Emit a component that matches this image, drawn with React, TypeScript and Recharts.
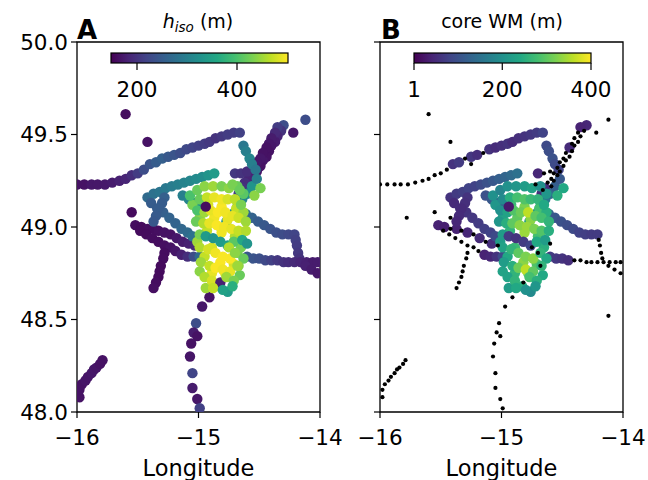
import { ScatterChart, Scatter, XAxis, YAxis, ReferenceArea } from 'recharts';

// [lon, lat, h_iso (m), core WM (m)] – null where the value is missing
type Row = [number, number, number | null, number | null];

const northLeg: Row[] = [
  [-16.0, 49.23, 165, null], [-15.94, 49.23, 165, null], [-15.88, 49.23, 170, null],
  [-15.83, 49.23, 170, null], [-15.77, 49.23, 172, null], [-15.71, 49.24, 175, null],
  [-15.65, 49.25, 180, null], [-15.6, 49.26, 185, null], [-15.55, 49.28, 195, null],
  [-15.5, 49.29, 210, null], [-15.45, 49.31, 230, null], [-15.4, 49.34, 240, 60],
  [-15.35, 49.35, 250, 70], [-15.3, 49.37, 255, null], [-15.25, 49.38, 245, 65],
  [-15.2, 49.39, 240, 55], [-15.15, 49.4, 230, null], [-15.1, 49.42, 225, 60],
  [-15.05, 49.43, 220, 50], [-15.0, 49.44, 215, 55], [-14.95, 49.45, 210, 60],
  [-14.91, 49.46, 205, 50], [-14.86, 49.48, 200, 55], [-14.81, 49.49, 205, 60],
  [-14.76, 49.5, 210, 65], [-14.71, 49.51, 210, 70], [-14.66, 49.51, 215, 80],
];

const neLegA: Row[] = [
  [-14.3, 49.55, 230, 45], [-14.32, 49.52, 200, null], [-14.35, 49.49, 185, null],
  [-14.37, 49.46, 175, null], [-14.4, 49.44, 170, null], [-14.42, 49.41, 165, null],
  [-14.44, 49.38, 165, null], [-14.47, 49.36, 170, null], [-14.49, 49.33, 165, null],
  [-14.52, 49.3, 170, null], [-14.54, 49.28, 175, null], [-14.57, 49.25, 180, null],
  [-14.59, 49.22, 190, null],
];

const neLegB: Row[] = [
  [-14.35, 49.54, 210, 40], [-14.37, 49.51, 190, null], [-14.4, 49.48, 175, null],
  [-14.42, 49.45, 170, null], [-14.44, 49.43, 165, 50], [-14.47, 49.4, 165, null],
  [-14.49, 49.37, 170, null], [-14.52, 49.35, 170, null], [-14.54, 49.32, 175, null],
  [-14.57, 49.29, 180, null], [-14.59, 49.26, 185, null], [-14.62, 49.24, 195, null],
  [-14.64, 49.21, 200, 50], [-14.67, 49.18, 210, 55],
];

const shortLeg: Row[] = [
  [-14.7, 49.29, 205, 45], [-14.65, 49.29, 200, null], [-14.6, 49.3, 195, null],
];

const seUpper: Row[] = [
  [-14.66, 49.09, 300, 150], [-14.61, 49.07, 280, 130], [-14.56, 49.05, 260, 110],
  [-14.51, 49.03, 250, 100], [-14.46, 49.01, 245, 95], [-14.41, 48.99, 240, 90],
  [-14.36, 48.97, 235, 80], [-14.31, 48.96, 230, 75], [-14.26, 48.96, 225, 70],
  [-14.21, 48.96, 220, 70], [-14.2, 48.93, 215, null], [-14.19, 48.9, 210, null],
  [-14.18, 48.86, 205, null], [-14.17, 48.83, 200, null],
];

const seLower: Row[] = [
  [-14.6, 48.84, 245, 70], [-14.55, 48.83, 240, 65], [-14.5, 48.83, 235, 60],
  [-14.45, 48.82, 225, 55], [-14.4, 48.82, 215, null], [-14.35, 48.82, 205, null],
  [-14.3, 48.81, 200, null], [-14.26, 48.81, 195, null], [-14.21, 48.81, 190, null],
  [-14.16, 48.81, 185, null], [-14.11, 48.81, 180, null], [-14.06, 48.81, 175, null],
  [-14.02, 48.81, 175, null], [-14.12, 48.79, 180, null], [-14.07, 48.77, 175, null],
  [-14.02, 48.75, 170, null],
];

const vUpper: Row[] = [
  [-15.52, 49.01, 160, 40], [-15.47, 49.0, 158, 35], [-15.42, 48.99, 160, null],
  [-15.37, 48.99, 160, 40], [-15.33, 48.98, 162, null], [-15.28, 48.97, 165, 45],
  [-15.23, 48.96, 165, null], [-15.18, 48.94, 170, 50], [-15.13, 48.92, 175, null],
  [-15.08, 48.91, 180, 55], [-15.03, 48.9, 190, null],
];

const vLower: Row[] = [
  [-15.48, 48.98, 158, null], [-15.43, 48.96, 158, null], [-15.38, 48.94, 160, null],
  [-15.33, 48.92, 160, null], [-15.28, 48.9, 162, null], [-15.23, 48.89, 165, null],
  [-15.19, 48.87, 170, null], [-15.14, 48.85, 180, 40], [-15.09, 48.84, 195, 45],
  [-15.04, 48.84, 230, 60], [-14.99, 48.84, 270, 90],
];

const vDown: Row[] = [
  [-15.28, 48.86, 160, null], [-15.29, 48.83, 160, null], [-15.31, 48.79, 158, null],
  [-15.32, 48.76, 158, null], [-15.33, 48.73, 158, null], [-15.35, 48.7, 160, null],
  [-15.37, 48.67, 162, null],
];

const southLeg: Row[] = [
  [-14.91, 48.62, 165, null], [-14.97, 48.57, 170, null], [-15.02, 48.48, 230, null],
  [-15.04, 48.43, 175, null], [-15.01, 48.41, 165, null], [-15.06, 48.37, 165, null],
  [-15.07, 48.3, 168, null], [-15.05, 48.21, 220, null], [-15.05, 48.13, 175, null],
  [-15.01, 48.07, 170, null], [-14.99, 48.02, 215, null],
];

const swLeg: Row[] = [
  [-15.98, 48.08, 165, null], [-15.98, 48.12, 165, null], [-15.96, 48.15, 165, null],
  [-15.93, 48.17, 168, null], [-15.91, 48.19, 168, null], [-15.88, 48.21, 170, null],
  [-15.86, 48.23, 170, null], [-15.84, 48.24, 168, null], [-15.81, 48.26, 165, null],
  [-15.79, 48.28, 165, null],
];

const nwLoops: Row[] = [
  [-15.42, 49.16, 270, 60], [-15.37, 49.18, 280, 70], [-15.32, 49.19, 285, 75],
  [-15.27, 49.21, 290, 80], [-15.22, 49.22, 295, 80], [-15.17, 49.23, 300, 90],
  [-15.12, 49.24, 305, 100], [-15.07, 49.25, 310, 110], [-15.02, 49.26, 315, 120],
  [-14.97, 49.27, 320, 130], [-14.92, 49.28, 330, 140], [-14.87, 49.29, 340, 150],
  [-15.39, 49.13, 250, 50], [-15.34, 49.1, 250, 55], [-15.29, 49.08, 255, 60],
  [-15.24, 49.05, 260, 65], [-15.19, 49.02, 260, 70], [-15.14, 48.99, 265, 75],
  [-15.09, 48.97, 270, 80], [-15.05, 48.95, 280, 90],
  [-15.28, 49.16, 255, 60], [-15.3, 49.13, 250, 55], [-15.33, 49.1, 250, 50],
  [-15.35, 49.06, 248, 50], [-15.37, 49.03, 245, 45],
  [-15.13, 49.17, 300, 100], [-15.08, 49.15, 305, 110], [-15.03, 49.13, 310, 120],
  [-14.98, 49.11, 320, 130],
];

const tealLegs: Row[] = [
  [-14.63, 49.44, 290, 90], [-14.61, 49.41, 300, 95], [-14.58, 49.37, 310, 100],
  [-14.56, 49.34, 300, 90], [-14.53, 49.31, 290, 80],
  [-14.81, 48.99, 340, 230], [-14.77, 49.03, 330, 220], [-14.72, 49.07, 320, 200],
  [-14.68, 49.11, 320, 180], [-14.64, 49.15, 310, 160], [-14.6, 49.18, 320, 140],
  [-14.56, 49.22, 330, 120], [-14.52, 49.26, 300, 110], [-14.54, 49.17, 440, 250],
  [-14.49, 49.21, 430, 240],
];

const cluster: Row[] = [
  [-15.07, 49.17, 400, 200], [-15.01, 49.2, 420, 180], [-14.95, 49.22, 440, 200],
  [-14.88, 49.22, 450, 210], [-14.81, 49.22, 430, 220], [-14.75, 49.21, 440, 230],
  [-14.68, 49.22, 420, 200], [-14.63, 49.18, 410, 210], [-14.99, 49.15, 420, 190],
  [-14.93, 49.16, 470, 250], [-14.87, 49.16, 490, 280], [-14.81, 49.15, 495, 290],
  [-14.76, 49.15, 480, 270], [-14.7, 49.15, 465, 260], [-14.65, 49.12, 430, 240],
  [-15.01, 49.09, 400, 200], [-14.95, 49.08, 450, 230], [-14.9, 49.09, 490, 290],
  [-14.84, 49.08, 500, 310], [-14.78, 49.08, 495, 360], [-14.72, 49.06, 490, 300],
  [-14.67, 49.05, 475, 280], [-14.61, 49.03, 450, 260], [-15.02, 49.03, 420, 210],
  [-14.96, 49.02, 460, 250], [-14.91, 49.02, 490, 300], [-14.85, 49.01, 500, 330],
  [-14.79, 49.0, 495, 340], [-14.73, 48.99, 490, 320], [-14.67, 48.98, 470, 290],
  [-14.61, 48.98, 460, 250], [-14.99, 48.96, 430, 220], [-14.94, 48.95, 340, 70],
  [-14.88, 48.94, 330, 60], [-14.82, 48.92, 340, 70], [-14.76, 48.9, 350, 80],
  [-14.71, 48.92, 410, 240], [-14.64, 48.93, 360, 220], [-14.99, 48.89, 460, 230],
  [-14.92, 48.88, 480, 260], [-14.86, 48.86, 495, 300], [-14.8, 48.84, 500, 320],
  [-14.74, 48.83, 500, 330], [-14.68, 48.86, 430, 260], [-14.63, 48.83, 420, 240],
  [-14.98, 48.81, 450, 220], [-14.91, 48.79, 470, 250], [-14.86, 48.78, 500, 310],
  [-14.8, 48.77, 495, 360], [-14.74, 48.76, 490, 300], [-14.67, 48.79, 440, 260],
  [-14.95, 48.73, 460, 230], [-14.89, 48.71, 480, 260], [-14.82, 48.7, 180, null],
  [-14.77, 48.73, 450, 280], [-14.71, 48.71, 430, 250], [-14.88, 48.67, 470, 240],
  [-14.8, 48.66, 350, 200], [-14.72, 48.68, 370, 210], [-14.94, 49.11, 160, 30],
  [-14.75, 48.89, 460, null], [-14.7, 48.86, 440, null], [-14.68, 48.79, 450, null],
  [-14.6, 48.91, 330, null], [-14.72, 49.23, 430, null], [-14.66, 49.2, 420, null],
];

// in-between profiles of the central patch
const clusterFill: Row[] = [
  [-15.05, 49.12, 430, 210], [-14.92, 49.12, 480, 270], [-14.81, 49.11, 500, 320],
  [-14.69, 49.1, 470, 280], [-14.99, 49.05, 440, 230], [-14.87, 49.05, 495, 300],
  [-14.76, 49.04, 490, 330], [-14.63, 49.08, 450, 250], [-14.93, 48.98, 470, 260],
  [-14.81, 48.97, 495, 340], [-14.7, 48.95, 460, 280], [-15.01, 48.92, 450, 220],
  [-14.89, 48.89, 480, 270], [-14.65, 48.89, 430, 250], [-14.95, 48.84, 470, 240],
  [-14.82, 48.81, 500, 330], [-14.71, 48.8, 480, 290], [-14.89, 48.75, 490, 260],
  [-14.78, 48.75, 480, 300], [-14.99, 48.76, 440, 230], [-14.83, 48.68, 470, 250],
  [-14.66, 48.74, 420, 240], [-14.94, 48.67, 450, 220], [-14.76, 48.65, 340, 190],
];

const isolated: Row[] = [
  [-15.6, 49.61, 160, null], [-15.42, 49.46, 165, null], [-15.55, 49.08, 158, null],
  [-14.12, 49.58, 230, null], [-14.22, 49.51, 170, null],
  [-15.78, 49.05, null, null], [-15.42, 49.05, null, null], [-15.25, 49.34, null, null],
  [-14.12, 48.52, null, null],
];

const lonTicks = [-16, -15, -14];
const latTicks = [48, 48.5, 49, 49.5, 50];
const hTicks = [200, 400];
const coreTicks = [1, 200, 400];
const H_RANGE: [number, number] = [148, 502];
const CORE_RANGE: [number, number] = [1, 400];

const VIRIDIS = ['#440154', '#482475', '#414487', '#355f8d', '#2a788e', '#21918c',
  '#22a884', '#44bf70', '#7ad151', '#bddf26', '#fde725'];

const FONT = '"DejaVu Sans", sans-serif';

function viridis(v: number, [lo, hi]: [number, number]) {
  const t = Math.min(1, Math.max(0, (v - lo) / (hi - lo))) * (VIRIDIS.length - 1);
  const i = Math.min(VIRIDIS.length - 2, Math.floor(t));
  const f = t - i;
  const a = VIRIDIS[i], b = VIRIDIS[i + 1];
  const ch = (s: string, k: number) => parseInt(s.slice(1 + 2 * k, 3 + 2 * k), 16);
  const mix = [0, 1, 2].map(k => Math.round(ch(a, k) + (ch(b, k) - ch(a, k)) * f));
  return `rgb(${mix.join(',')})`;
}

const rows: Row[] = [
  ...northLeg, ...neLegA, ...neLegB, ...shortLeg, ...seUpper, ...seLower,
  ...vUpper, ...vLower, ...vDown, ...southLeg, ...swLeg, ...nwLoops,
  ...tealLegs, ...clusterFill, ...cluster, ...isolated,
];

const toPt = (r: Row) => ({ lon: r[0], lat: r[1], h: r[2], core: r[3] });
const hPoints = rows.filter(r => r[2] !== null).map(toPt);
const corePoints = rows.filter(r => r[3] !== null).map(toPt);
const noCorePoints = rows.filter(r => r[3] === null).map(toPt);

const fmtLon = (v: number) => (v < 0 ? '\u2212' + Math.abs(v) : String(v));
const tickStyle = { fontSize: 21.5, fill: '#000', fontFamily: FONT };
const lineStyle = { stroke: '#000', strokeWidth: 1.2 };

function MapPanel({ panel }: { panel: 'A' | 'B' }) {
  const isA = panel === 'A';
  return (
    <ScatterChart
      width={isA ? 360 : 318}
      height={480}
      margin={isA ? { top: 42, right: 40, bottom: 0, left: 17 } : { top: 42, right: 25, bottom: 0, left: 40 }}
    >
      <XAxis
        type="number" dataKey="lon" domain={[-16, -14]} ticks={lonTicks} allowDataOverflow
        tickFormatter={fmtLon} height={68} tickSize={6} tickMargin={12}
        axisLine={false} tick={tickStyle} tickLine={lineStyle}
        label={{ value: 'Longitude', position: 'insideBottom', offset: 4, fontSize: 22.5, fill: '#000', fontFamily: FONT }}
      />
      <YAxis
        type="number" dataKey="lat" domain={[48, 50]} ticks={latTicks} allowDataOverflow
        width={isA ? 60 : 10} tickSize={6} tickMargin={3} axisLine={false}
        tick={tickStyle} tickLine={lineStyle}
        tickFormatter={(v: number) => (isA ? v.toFixed(1) : '')}
      />
      {isA ? (
        <Scatter
          data={hPoints} isAnimationActive={false}
          shape={(p: any) => <circle cx={p.cx} cy={p.cy} r={5.2} fill={viridis(p.payload.h, H_RANGE)} />}
        />
      ) : (
        <Scatter
          data={corePoints} isAnimationActive={false}
          shape={(p: any) => <circle cx={p.cx} cy={p.cy} r={5.2} fill={viridis(p.payload.core, CORE_RANGE)} />}
        />
      )}
      {!isA && (
        <Scatter
          data={noCorePoints} isAnimationActive={false}
          shape={(p: any) => <circle cx={p.cx} cy={p.cy} r={2.1} fill="#000" />}
        />
      )}
      <ReferenceArea x1={-16} x2={-14} y1={48} y2={50} fill="none" stroke="#000" strokeWidth={1.3} />
    </ScatterChart>
  );
}

function ColorBar({ id, x0, width, range, ticks }: { id: string; x0: number; width: number; range: [number, number]; ticks: number[] }) {
  const sx = (v: number) => x0 + ((v - range[0]) / (range[1] - range[0])) * width;
  return (
    <g>
      <defs>
        <linearGradient id={id} x1="0" y1="0" x2="1" y2="0">
          {VIRIDIS.map((c, i) => <stop key={i} offset={i / (VIRIDIS.length - 1)} stopColor={c} />)}
        </linearGradient>
      </defs>
      <rect x={x0} y={53} width={width} height={10} fill={`url(#${id})`} stroke="#000" strokeWidth={1.2} />
      {ticks.map(t => (
        <g key={t}>
          <line x1={sx(t)} x2={sx(t)} y1={63} y2={70} stroke="#000" strokeWidth={1.2} />
          <text x={sx(t)} y={97} textAnchor="middle" fontSize={21.5} fill="#000">{t}</text>
        </g>
      ))}
    </g>
  );
}

export default function App() {
  return (
    <div style={{ position: 'absolute', left: 0, top: 0, width: 648, height: 480, background: '#fff', fontFamily: FONT, overflow: 'hidden' }}>
      <div style={{ position: 'absolute', left: 0, top: 0 }}>
        <MapPanel panel="A" />
      </div>
      <div style={{ position: 'absolute', left: 330, top: 0 }}>
        <MapPanel panel="B" />
      </div>
      <svg width={648} height={480} style={{ position: 'absolute', left: 0, top: 0, pointerEvents: 'none' }} fontFamily={FONT}>
        <text x={77} y={39} fontSize={26} fontWeight="bold" fill="#000">A</text>
        <text x={381} y={39} fontSize={26} fontWeight="bold" fill="#000">B</text>
        <text x={198} y={28} textAnchor="middle" fontSize={19} fill="#000">
          <tspan fontStyle="italic">h</tspan>
          <tspan fontStyle="italic" fontSize={13.5} dy={4}>iso</tspan>
          <tspan dy={-4}> (m)</tspan>
        </text>
        <text x={502} y={28} textAnchor="middle" fontSize={19} fill="#000">core WM (m)</text>
        <ColorBar id="cbA" x0={111} width={177} range={H_RANGE} ticks={hTicks} />
        <ColorBar id="cbB" x0={414} width={177} range={CORE_RANGE} ticks={coreTicks} />
      </svg>
    </div>
  );
}
